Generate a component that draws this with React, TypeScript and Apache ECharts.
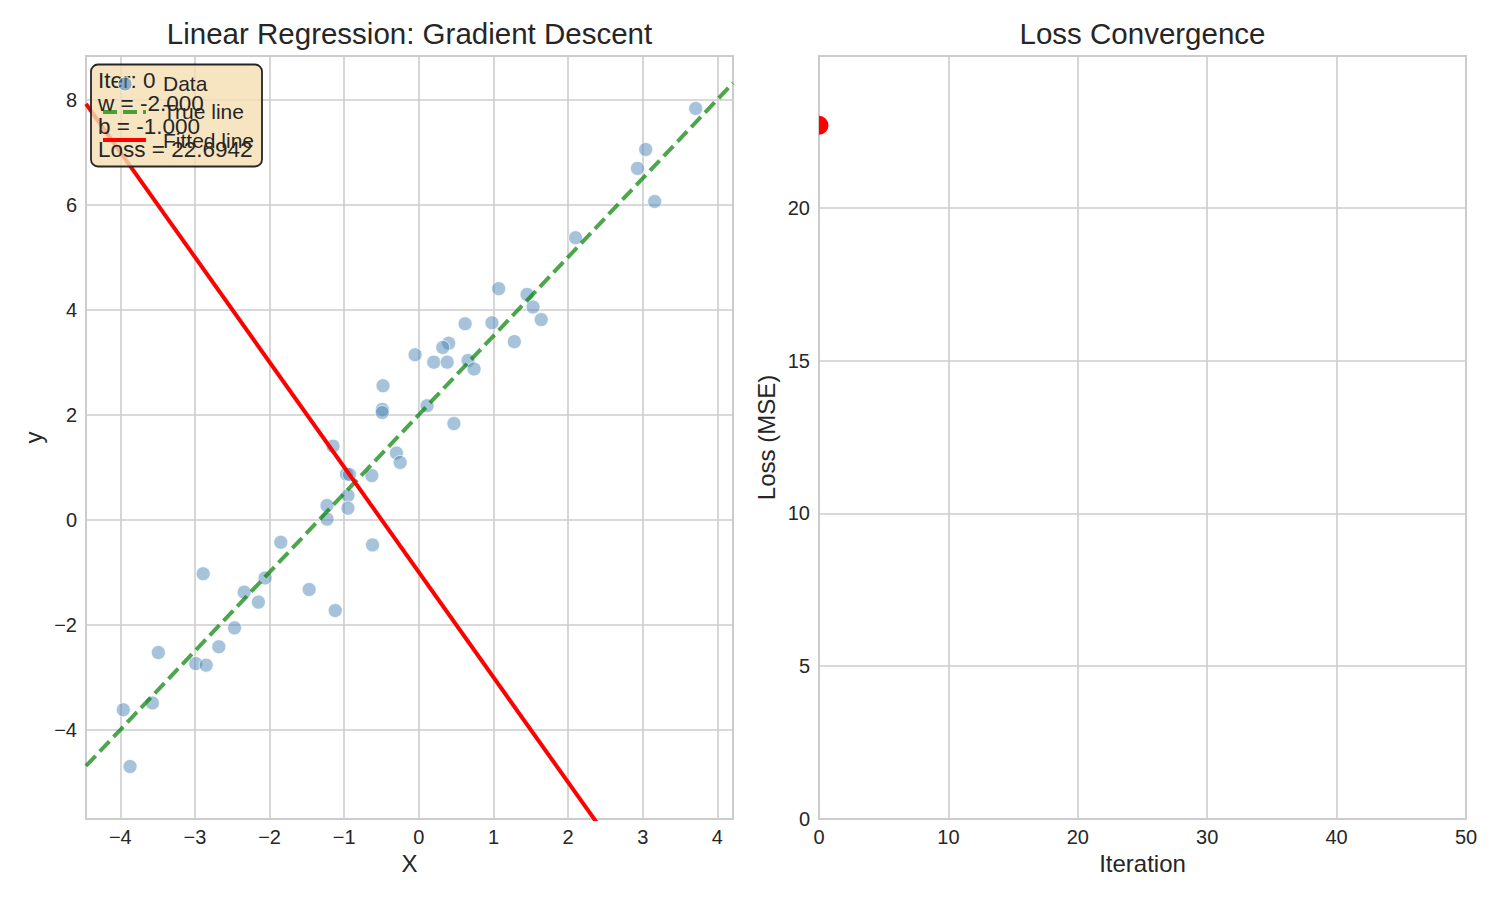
import React, { useEffect, useRef } from "react";
import * as echarts from "echarts";

// Sample points (feature X, target y)
const dataX = [
  -0.05, -0.48, -0.49, -0.49, -1.15, -0.3, -0.25, -0.97, -0.93, -0.63,
  -0.95, -1.23, -0.95, -1.23, -1.85, -0.62, -2.89, -2.06, -2.34, -1.47,
  -2.15, -1.12, -2.47, -2.68, -3.49, -2.99, -2.85, -3.96, -3.57, -3.87,
  3.71, 3.04, 2.93, 3.16, 2.1, 1.07, 1.45, 1.53, 1.64, 0.62,
  0.98, 1.28, 0.4, 0.32, 0.2, 0.38, 0.66, 0.74, 0.11, 0.47,
];
const dataY = [
  3.14, 2.55, 2.1, 2.04, 1.4, 1.27, 1.09, 0.87, 0.86, 0.84,
  0.46, 0.27, 0.22, 0.01, -0.43, -0.48, -1.03, -1.11, -1.38, -1.33,
  -1.57, -1.73, -2.06, -2.42, -2.53, -2.74, -2.77, -3.62, -3.49, -4.7,
  7.83, 7.05, 6.69, 6.06, 5.37, 4.4, 4.29, 4.05, 3.81, 3.73,
  3.75, 3.39, 3.36, 3.28, 3.0, 3.0, 3.03, 2.87, 2.17, 1.83,
];

// Ground-truth and current parameters of the line
const trueW = 1.5;
const trueB = 2.0;
const iteration = 0;
const currentW = -2.0;
const currentB = -1.0;

// Loss recorded so far, one value per iteration
const lossHistory = [22.6942];
const maxIterations = 50;

// Tick positions
const xTickValues = [-4, -3, -2, -1, 0, 1, 2, 3, 4];
const yTickValues = [-4, -2, 0, 2, 4, 6, 8];
const iterTickValues = [0, 10, 20, 30, 40, 50];
const lossTickValues = [0, 5, 10, 15, 20];

const legendLabels = ["Data", "True line", "Fitted line"];

const FONT = "'Liberation Sans', Arial, Helvetica, sans-serif";
const TEXT = "#262626";
const GRID = "#cccccc";

const minus = (v: number | string) => String(v).replace("-", "\u2212");

function valueAxis(
  gridIndex: number,
  min: number,
  max: number,
  ticks: number[],
  name: string,
  isY: boolean
) {
  return {
    type: "value",
    gridIndex,
    min,
    max,
    name,
    nameLocation: "middle",
    nameGap: isY ? 41 : 30,
    nameTextStyle: { color: TEXT, fontSize: 24, fontFamily: FONT },
    axisLine: { show: false },
    axisTick: { show: false, customValues: ticks },
    axisLabel: {
      customValues: ticks,
      color: TEXT,
      fontSize: 20,
      fontFamily: FONT,
      margin: isY ? 9 : 8,
      formatter: (v: number) => minus(v),
    },
    splitLine: { show: true, lineStyle: { color: GRID, width: 1.6 } },
  };
}

export default function App() {
  const ref = useRef<HTMLDivElement>(null);

  useEffect(() => {
    if (!ref.current) return;
    const chart = echarts.init(ref.current, undefined, { renderer: "svg" });

    const xLo = Math.min(...dataX) - 0.5;
    const xHi = Math.max(...dataX) + 0.5;
    const yLo = Math.min(...dataY) - 1;
    const yHi = Math.max(...dataY) + 1;
    const lossHi = lossHistory[0] * 1.1;

    const linePts = (w: number, b: number) => [
      [xLo, w * xLo + b],
      [xHi, w * xHi + b],
    ];
    const points = dataX.map((x, i) => [x, dataY[i]]);
    const currentLoss = lossHistory[lossHistory.length - 1];

    const boxLines = [
      `Iter: ${iteration}`,
      `w = ${currentW.toFixed(3)}`,
      `b = ${currentB.toFixed(3)}`,
      `Loss = ${currentLoss.toFixed(4)}`,
    ];

    chart.setOption({
      animation: false,
      backgroundColor: "#ffffff",
      textStyle: { fontFamily: FONT },
      grid: [
        { left: 86, top: 56, width: 647, height: 763, show: true, borderColor: GRID, borderWidth: 2, backgroundColor: "transparent" },
        { left: 819, top: 56, width: 647, height: 763, show: true, borderColor: GRID, borderWidth: 2, backgroundColor: "transparent" },
      ],
      xAxis: [
        valueAxis(0, xLo, xHi, xTickValues, "X", false),
        valueAxis(1, 0, maxIterations, iterTickValues, "Iteration", false),
      ],
      yAxis: [
        valueAxis(0, yLo, yHi, yTickValues, "y", true),
        valueAxis(1, 0, lossHi, lossTickValues, "Loss (MSE)", true),
      ],
      series: [
        {
          name: "Data",
          type: "scatter",
          xAxisIndex: 0,
          yAxisIndex: 0,
          data: points,
          symbolSize: 14,
          itemStyle: {
            color: "rgba(70,130,180,0.6)",
            borderColor: "rgba(255,255,255,0.8)",
            borderWidth: 1,
          },
        },
        {
          name: "True line",
          type: "line",
          xAxisIndex: 0,
          yAxisIndex: 0,
          data: linePts(trueW, trueB),
          symbol: "none",
          clip: true,
          lineStyle: { color: "rgba(0,128,0,0.7)", width: 4, type: [14, 6] },
        },
        {
          name: "Fitted line",
          type: "line",
          xAxisIndex: 0,
          yAxisIndex: 0,
          data: linePts(currentW, currentB),
          symbol: "none",
          clip: true,
          lineStyle: { color: "#ff0000", width: 4 },
        },
        {
          name: "Loss",
          type: "line",
          xAxisIndex: 1,
          yAxisIndex: 1,
          data: lossHistory.map((v, i) => [i, v]),
          symbol: "none",
          lineStyle: { color: "#1f77b4", width: 4 },
        },
        {
          // current loss marker, cut off at the left edge of the plot area
          name: "Current loss",
          type: "custom",
          xAxisIndex: 1,
          yAxisIndex: 1,
          data: [[lossHistory.length - 1, currentLoss]],
          renderItem: (params: any, api: any) => {
            const p = api.coord([api.value(0), api.value(1)]);
            const left = params.coordSys.x;
            const r = 9.5;
            const onEdge = p[0] - left < 0.5;
            return onEdge
              ? {
                  type: "sector",
                  shape: { cx: p[0], cy: p[1], r0: 0, r, startAngle: -Math.PI / 2, endAngle: Math.PI / 2, clockwise: true },
                  style: { fill: "#ff0000" },
                }
              : {
                  type: "circle",
                  shape: { cx: p[0], cy: p[1], r },
                  style: { fill: "#ff0000" },
                };
          },
        },
      ],
      graphic: [
        {
          type: "text",
          x: 409.5,
          y: 33,
          style: { text: "Linear Regression: Gradient Descent", fill: TEXT, fontSize: 29.5, fontFamily: FONT, align: "center", verticalAlign: "middle" },
        },
        {
          type: "text",
          x: 1142.5,
          y: 33,
          style: { text: "Loss Convergence", fill: TEXT, fontSize: 29.5, fontFamily: FONT, align: "center", verticalAlign: "middle" },
        },
        // parameter box
        {
          type: "rect",
          z: 100,
          shape: { x: 91, y: 64.5, width: 171, height: 102, r: 7 },
          style: { fill: "rgba(245,222,179,0.8)", stroke: "#262626", lineWidth: 1.8 },
        },
        ...boxLines.map((t, i) => ({
          type: "text",
          z: 101,
          x: 98,
          y: 80 + i * 23.3,
          style: { text: t, fill: TEXT, fontSize: 22.5, fontFamily: FONT, align: "left", verticalAlign: "middle" },
        })),
        // legend
        {
          type: "circle",
          z: 102,
          shape: { cx: 125, cy: 84, r: 7 },
          style: { fill: "rgba(70,130,180,0.6)", stroke: "rgba(255,255,255,0.8)", lineWidth: 1 },
        },
        {
          type: "line",
          z: 102,
          shape: { x1: 103, y1: 112, x2: 146, y2: 112 },
          style: { stroke: "rgba(0,128,0,0.7)", lineWidth: 4, lineDash: [14, 6] },
        },
        {
          type: "line",
          z: 102,
          shape: { x1: 103, y1: 140, x2: 146, y2: 140 },
          style: { stroke: "#ff0000", lineWidth: 4 },
        },
        ...legendLabels.map((t, i) => ({
          type: "text",
          z: 103,
          x: 163,
          y: 83 + i * 28.5,
          style: { text: t, fill: TEXT, fontSize: 21, fontFamily: FONT, align: "left", verticalAlign: "middle" },
        })),
      ],
    });

    return () => chart.dispose();
  }, []);

  return (
    <div
      ref={ref}
      style={{ position: "fixed", left: 0, top: 0, width: 1500, height: 900, background: "#fff" }}
    />
  );
}
